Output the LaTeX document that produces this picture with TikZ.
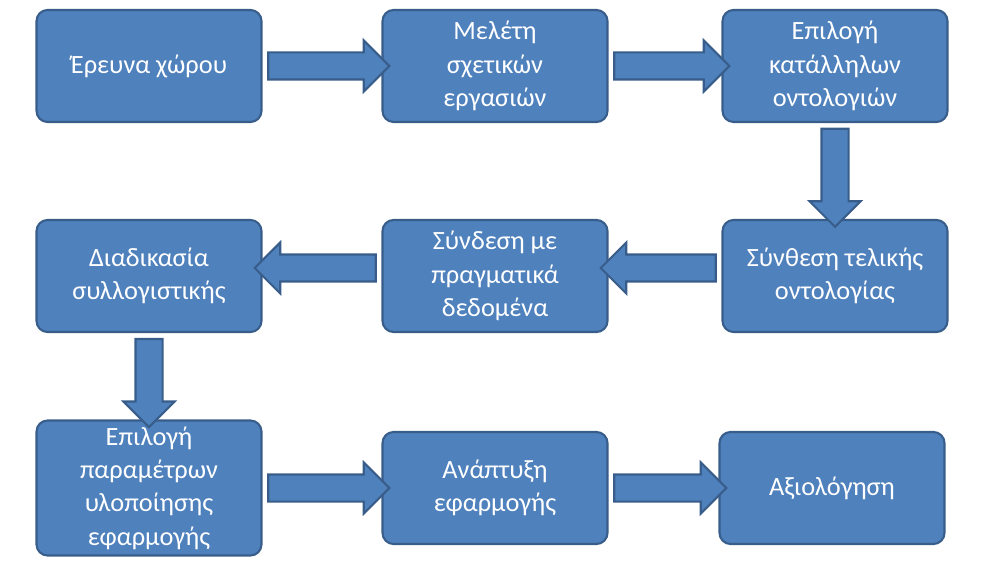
\documentclass[tikz,border=0pt]{standalone}
\usepackage{fontspec}
\setmainfont{Carlito}
\usetikzlibrary{shapes.arrows,calc}
\definecolor{boxfill}{HTML}{4F81BD}
\definecolor{boxline}{HTML}{385D8A}
\tikzset{
  stage/.style={draw=boxline,line width=1.2pt,fill=boxfill,rounded corners=0.22cm,
    minimum width=4.5cm,minimum height=2.24cm,text=white,align=center,
    font=\fontsize{15}{19}\selectfont},
  fatarrow/.style={single arrow,draw=boxline,line width=1.2pt,fill=boxfill,
    inner sep=0.25cm,single arrow head extend=0.24cm,minimum height=#1}
}
\begin{document}
\begin{tikzpicture}[x=0.02cm,y=-0.02cm]
  \useasboundingbox (0,0) rectangle (989,570);
  % first row
  \node[stage] (erevna) at (149,66) {Έρευνα χώρου};
  \node[stage] (meleti) at (495,66) {Μελέτη\\σχετικών\\εργασιών};
  \node[stage] (epilogi) at (835,66) {Επιλογή\\κατάλληλων\\οντολογιών};
  % second row
  \node[stage] (diadikasia) at (149,276) {Διαδικασία\\συλλογιστικής};
  \node[stage] (syndesi) at (495,276) {Σύνδεση με\\πραγματικά\\δεδομένα};
  \node[stage] (synthesi) at (835,276) {Σύνθεση τελικής\\οντολογίας};
  % third row
  \node[stage,minimum height=2.7cm] (parametroi) at (149,488) {Επιλογή\\παραμέτρων\\υλοποίησης\\εφαρμογής};
  \node[stage] (anaptyxi) at (495,488) {Ανάπτυξη\\εφαρμογής};
  \node[stage] (axiologisi) at (832,488) {Αξιολόγηση};
  % arrows
  \node[fatarrow=2.42cm] at ($(erevna.east)!0.5!(meleti.west)$) {};
  \node[fatarrow=2.3cm] at ($(meleti.east)!0.5!(epilogi.west)$) {};
  \node[fatarrow=1.96cm,shape border rotate=270] at ($(epilogi.south)!0.5!(synthesi.north)$) {};
  \node[fatarrow=2.3cm,shape border rotate=180] at ($(synthesi.west)!0.5!(syndesi.east)+(0,-8)$) {};
  \node[fatarrow=2.42cm,shape border rotate=180] at ($(syndesi.west)!0.5!(diadikasia.east)+(0,-8)$) {};
  \node[fatarrow=1.76cm,shape border rotate=270] at ($(diadikasia.south)!0.5!(parametroi.north)$) {};
  \node[fatarrow=2.42cm] at ($(parametroi.east)!0.5!(anaptyxi.west)$) {};
  \node[fatarrow=2.24cm] at ($(anaptyxi.east)!0.5!(axiologisi.west)$) {};
\end{tikzpicture}
\end{document}
